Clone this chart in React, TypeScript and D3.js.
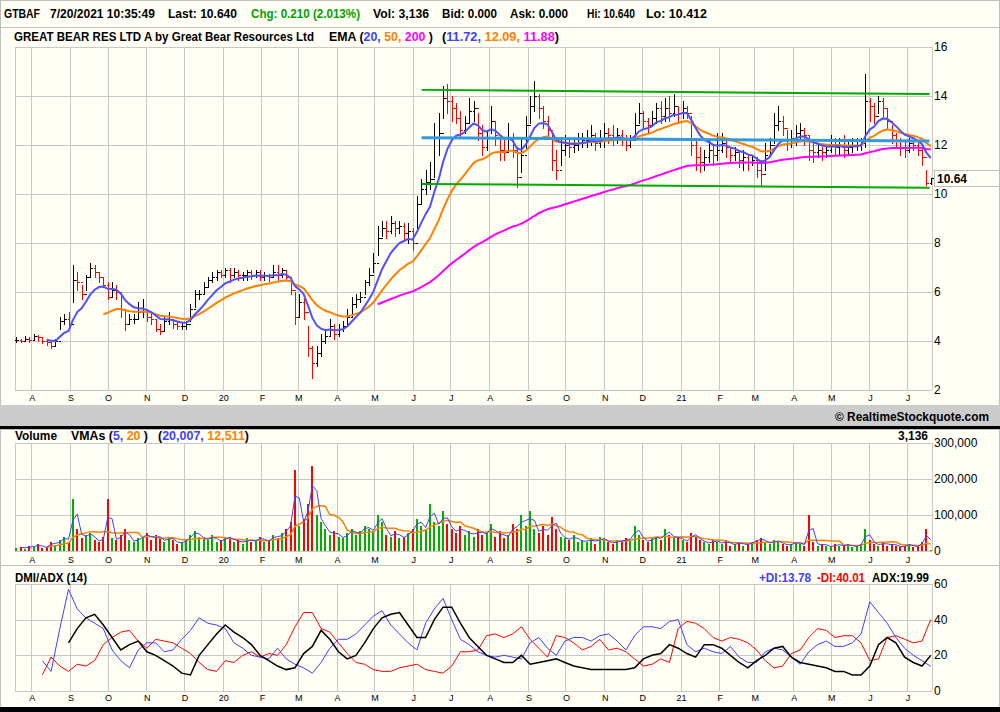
import React, { useEffect, useRef } from 'react'
import * as d3 from 'd3'

// price bars, one every ~3.5 calendar days, Jul 20 2019 .. Jul 20 2021
const highs = [
  4.15, 4.1, 4.2, 4.15, 4.3, 4.25, 4.15, 4.05, 3.95, 4.1,
  5.0, 5.1, 5.2, 7.1, 6.8, 6.3, 6.7, 7.2, 7.1, 6.8,
  6.6, 6.4, 6.4, 6.3, 5.9, 5.3, 5.1, 5.1, 5.6, 5.7,
  5.3, 5.2, 4.9, 4.7, 5.0, 5.2, 4.9, 4.8, 4.75, 4.8,
  5.5, 6.1, 6.1, 6.4, 6.6, 6.8, 6.9, 6.9, 7.0, 7.0,
  7.0, 6.9, 6.8, 6.9, 6.9, 6.9, 6.9, 6.8, 6.75, 7.1,
  7.1, 7.0, 6.9, 6.6, 6.0, 5.9, 5.7, 4.6, 3.8, 3.8,
  4.3, 4.5, 4.9, 4.7, 4.7, 4.8, 5.3, 5.8, 5.9, 6.0,
  6.5, 7.0, 7.6, 8.7, 8.9, 8.9, 9.1, 8.9, 8.9, 8.8,
  8.8, 8.6, 9.9, 10.6, 11.0, 11.3, 12.9, 13.3, 14.4, 14.5,
  14.0, 13.7, 13.4, 13.2, 13.9, 13.8, 13.3, 12.8, 12.6, 13.6,
  13.0, 12.3, 12.2, 12.9, 12.5, 11.9, 12.3, 13.2, 14.0, 14.6,
  14.1, 13.6, 13.2, 12.5, 11.8, 12.3, 12.4, 12.3, 12.3, 12.5,
  12.5, 12.6, 12.8, 12.5, 12.6, 12.9, 12.7, 12.8, 12.7, 12.6,
  12.4, 12.4, 13.3, 13.7, 13.4, 13.1, 13.4, 13.7, 13.8, 13.9,
  14.0, 14.1, 13.6, 13.8, 13.6, 13.2, 12.2, 11.9, 11.8, 12.2,
  12.0, 12.5, 12.5, 12.3, 11.9, 11.9, 11.8, 11.8, 11.6, 11.6,
  11.5, 11.4, 12.1, 12.3, 13.3, 13.6, 13.2, 12.6, 12.6, 12.8,
  12.9, 12.7, 12.4, 12.1, 12.0, 11.9, 12.0, 12.4, 12.3, 12.3,
  12.4, 12.2, 12.3, 12.3, 12.3, 14.9, 13.9, 13.7, 14.0, 13.9,
  13.5, 12.8, 12.5, 12.3, 12.2, 12.3, 12.2, 12.1, 11.9, 11.0,
  10.64,
]

const lows = [
  3.95, 3.95, 4.0, 3.95, 4.05, 4.0, 3.9, 3.85, 3.72, 3.8,
  4.5, 4.7, 4.5, 5.6, 6.1, 5.7, 6.1, 6.6, 6.6, 6.4,
  6.2, 5.7, 5.8, 5.7, 5.0, 4.45, 4.7, 4.75, 4.9, 5.0,
  4.8, 4.7, 4.4, 4.3, 4.4, 4.7, 4.55, 4.5, 4.5, 4.5,
  4.8, 5.4, 5.7, 5.9, 6.2, 6.4, 6.5, 6.6, 6.6, 6.4,
  6.6, 6.5, 6.5, 6.5, 6.55, 6.6, 6.5, 6.5, 6.45, 6.6,
  6.5, 6.6, 6.5, 5.9, 4.7, 5.0, 4.9, 3.4, 2.5, 3.0,
  3.4, 3.9, 4.2, 4.1, 4.2, 4.4, 4.7, 5.0, 5.4, 5.6,
  5.9, 6.3, 6.8, 7.5, 8.3, 8.2, 8.4, 8.3, 8.4, 8.1,
  8.0, 7.7, 8.5, 9.6, 10.0, 10.2, 10.7, 11.6, 13.1, 13.3,
  13.0, 12.9, 12.3, 12.5, 12.9, 13.0, 12.2, 11.6, 11.8, 12.5,
  12.0, 11.4, 11.4, 11.7, 11.5, 10.3, 10.9, 11.8, 12.9, 13.4,
  13.1, 12.7, 12.3, 11.0, 10.6, 11.2, 11.6, 11.5, 11.7, 11.8,
  11.9, 11.9, 12.0, 11.8, 11.9, 11.9, 12.1, 12.0, 12.1, 12.0,
  11.8, 11.9, 12.3, 12.9, 12.7, 12.5, 12.8, 12.9, 12.9, 13.0,
  13.0, 13.2, 13.0, 13.1, 13.1, 11.6, 11.0, 10.9, 11.0, 11.3,
  11.2, 11.4, 11.7, 11.5, 11.3, 11.4, 11.1, 11.0, 11.0, 11.2,
  10.7, 10.35, 11.0, 11.6, 12.1, 12.6, 12.4, 11.8, 11.9, 12.0,
  12.2, 12.0, 11.4, 11.3, 11.5, 11.4, 11.5, 11.7, 11.6, 11.6,
  11.5, 11.6, 11.7, 11.8, 11.8, 11.9, 13.0, 12.9, 13.3, 13.2,
  12.7, 12.1, 11.9, 11.6, 11.5, 11.7, 11.8, 11.6, 11.2, 10.35,
  10.41,
]

const closes = [
  4.05, 4.0, 4.1, 4.05, 4.2, 4.15, 4.0, 3.95, 3.8, 4.0,
  4.8, 4.9, 4.7, 6.5, 6.4, 5.9, 6.6, 7.0, 6.8, 6.6,
  6.3, 5.8, 6.1, 6.0, 5.3, 4.7, 4.9, 4.9, 5.2, 5.3,
  5.0, 4.9, 4.5, 4.4, 4.8, 4.9, 4.7, 4.6, 4.6, 4.7,
  5.3, 5.9, 5.9, 6.2, 6.5, 6.6, 6.8, 6.7, 6.9, 6.7,
  6.8, 6.7, 6.7, 6.8, 6.7, 6.8, 6.6, 6.7, 6.6, 6.8,
  6.7, 6.9, 6.6, 6.1, 5.0, 5.6, 5.2, 3.7, 3.1, 3.5,
  4.0, 4.2, 4.6, 4.3, 4.5, 4.6, 5.0, 5.5, 5.7, 5.8,
  6.4, 6.7, 7.2, 8.2, 8.6, 8.5, 8.8, 8.6, 8.7, 8.4,
  8.5, 8.0, 9.6, 10.2, 10.5, 10.6, 12.3, 12.5, 13.9, 13.8,
  13.5, 13.1, 12.6, 12.9, 13.4, 13.5, 12.5, 11.9, 12.3, 13.0,
  12.4, 11.8, 11.7, 12.3, 11.8, 10.7, 11.6, 12.8, 13.6, 14.0,
  13.5, 13.0, 12.6, 11.4, 11.0, 11.8, 12.0, 11.9, 12.0, 12.1,
  12.2, 12.2, 12.4, 12.1, 12.2, 12.5, 12.4, 12.3, 12.4, 12.3,
  12.0, 12.2, 12.8, 13.3, 13.0, 12.8, 13.1, 13.5, 13.2, 13.5,
  13.3, 13.6, 13.3, 13.5, 13.3, 12.0, 11.5, 11.3, 11.5, 11.8,
  11.6, 11.8, 12.1, 11.9, 11.6, 11.7, 11.4, 11.5, 11.3, 11.4,
  11.0, 10.8, 11.6, 12.0, 12.8, 13.0, 12.7, 12.2, 12.3, 12.5,
  12.6, 12.4, 11.8, 11.7, 11.8, 11.7, 11.8, 12.0, 11.9, 12.0,
  11.8, 11.9, 12.0, 12.0, 12.1, 13.8, 13.6, 13.2, 13.8, 13.5,
  13.0, 12.4, 12.2, 11.9, 11.8, 12.1, 12.0, 11.8, 11.5, 10.43,
  10.64,
]

// volume per bar, in thousands of shares
const volumes = [
  8, 12, 6, 15, 10, 20, 8, 12, 25, 18,
  30, 40, 25, 145, 60, 35, 45, 50, 30, 25,
  40, 145, 35, 30, 45, 60, 30, 25, 35, 40,
  50, 30, 45, 35, 25, 40, 30, 20, 25, 30,
  45, 55, 40, 35, 30, 45, 25, 30, 35, 40,
  25, 30, 20, 35, 25, 30, 40, 25, 30, 45,
  35, 50, 60, 80, 225, 70, 90, 130, 235, 100,
  80, 60, 45, 55, 40, 35, 50, 60, 45, 55,
  70, 60, 55, 100, 80, 45, 40, 55, 35, 40,
  50, 60, 90, 70, 60, 130, 80, 70, 110, 75,
  60, 50, 70, 45, 55, 40, 60, 45, 50, 75,
  40, 55, 35, 45, 75, 60, 100, 70, 110, 60,
  50, 70, 45, 95, 60, 40, 35, 30, 45, 25,
  30, 25, 35, 20, 40, 30, 25, 20, 30, 25,
  35, 30, 70, 45, 30, 25, 35, 40, 30, 60,
  45, 35, 40, 30, 25, 50, 40, 30, 25, 20,
  30, 25, 20, 30, 15, 20, 25, 15, 20, 25,
  30, 35, 25, 20, 30, 25, 20, 15, 20, 25,
  20, 15, 100, 25, 15, 20, 15, 10, 20, 15,
  15, 20, 10, 15, 20, 60, 30, 20, 15, 25,
  15, 20, 15, 10, 15, 20, 10, 15, 25, 60,
  3.136,
]

// DMI / ADX (14), one value every second price bar
const plusDI = [
  null, null, null, 17, 11, 35, 57, 46, 41, 38,
  35, 23, 17, 13, 23, 27, 27, 22, 23, 29,
  34, 41, 38, 37, 35, 27, 24, 20, 19, 18,
  24, 18, 15, 13, 10, 16, 24, 29, 29, 32,
  37, 42, 45, 37, 32, 27, 23, 38, 46, 52,
  40, 29, 26, 22, 20, 19, 20, 19, 18, 27,
  30, 24, 20, 28, 30, 30, 28, 31, 32, 28,
  23, 31, 36, 36, 35, 39, 40, 26, 22, 24,
  22, 21, 25, 19, 16, 16, 22, 24, 23, 19,
  15, 22, 26, 28, 25, 25, 27, 32, 50, 44,
  38, 30, 24, 20, 17, 13.78,
]
const minusDI = [
  null, null, null, 9, 19, 14, 11, 15, 14, 17,
  26, 30, 33, 34, 28, 24, 29, 28, 27, 24,
  21, 16, 12, 11, 17, 16, 20, 22, 19, 21,
  20, 26, 36, 44, 44, 35, 33, 27, 21, 16,
  15, 12, 11, 11, 13, 14, 15, 12, 11, 10,
  14, 22, 22, 23, 31, 32, 30, 32, 36, 29,
  24, 19, 31, 30, 27, 23, 25, 29, 23, 24,
  22, 18, 14, 15, 18, 16, 35, 39, 38, 35,
  30, 28, 30, 29, 27, 23, 17, 13, 14, 21,
  23, 30, 35, 34, 30, 31, 31, 27, 17, 18,
  30, 31, 29, 27, 28, 40.01,
]
const adx = [
  null, null, null, null, null, null, 27, 35, 41, 43,
  37, 30, 23, 26, 28, 22, 20, 17, 14, 10,
  9, 20, 26, 32, 37, 33, 30, 26, 20, 17,
  14, 12, 13, 21, 25, 34, 29, 22, 18, 20,
  27, 35, 41, 43, 44, 37, 30, 30, 40, 47,
  47, 38, 30, 25, 20, 18, 16, 16, 20, 15,
  16, 17, 18, 16, 14, 13, 12, 12, 12, 12,
  12, 13, 18, 20, 21, 26, 24, 21, 19, 26,
  26, 24, 20, 16, 13, 17, 20, 24, 25, 19,
  16, 15, 14, 13, 11, 11, 9, 9, 14, 26,
  30, 27, 19, 16, 14, 19.99,
]

// drawn trend lines: [start date, start price, end date, end price]
const supportResistance = [
  { color: '#00AA00', width: 2, from: ['2020-06-08', 14.25], to: ['2021-07-19', 14.08] },
  { color: '#3399DD', width: 3, from: ['2020-06-08', 12.3], to: ['2021-07-19', 12.16] },
  { color: '#00AA00', width: 2, from: ['2020-06-08', 10.41], to: ['2021-07-19', 10.26] },
]

const priceTicks = [2, 4, 6, 8, 10, 12, 14, 16]
const volumeTicks = [0, 100000, 200000, 300000]
const dmiTicks = [0, 20, 40, 60]
const monthLetters = ['J', 'F', 'M', 'A', 'M', 'J', 'J', 'A', 'S', 'O', 'N', 'D']

const FONT = '"Liberation Sans", Arial, Helvetica, sans-serif'
const BG = '#FFFFF5'
const GRID = '#C8C8C8'

export default function App(): React.ReactElement {
  const chartRef = useRef<HTMLDivElement>(null)

  useEffect(() => {
    document.body.style.margin = '0'
    const width = 1000
    const height = 712
    const left = 15
    const right = 932

    const start = new Date(2019, 6, 20).getTime()
    const end = new Date(2021, 6, 20).getTime()
    const step = (end - start) / (closes.length - 1)
    const barDate = (i: number) => new Date(start + i * step)

    const x = d3
      .scaleTime()
      .domain([new Date(2019, 6, 19), new Date(2021, 6, 21)])
      .range([left, right])
    const months = d3.timeMonth.range(new Date(2019, 7, 1), new Date(2021, 6, 2))
    const monthLabel = (m: Date) =>
      m.getMonth() === 0 ? String(m.getFullYear()).slice(2) : monthLetters[m.getMonth()]

    const yPrice = d3.scaleLinear().domain([2, 16]).range([390, 47])
    const yVol = d3.scaleLinear().domain([0, 300000]).range([551, 443])
    const yDmi = d3.scaleLinear().domain([0, 60]).range([691, 584])

    const ema = (values: number[], n: number) => {
      const k = 2 / (n + 1)
      const seed = Math.round(n)
      let prev = 0
      return values.map((v, i) => {
        if (i < seed - 1) return null
        if (i === seed - 1) {
          prev = d3.mean(values.slice(0, seed))!
          return prev
        }
        prev = v * k + prev * (1 - k)
        return prev
      })
    }
    const sma = (values: number[], n: number) =>
      values.map((_, i) => (i < n - 1 ? null : d3.mean(values.slice(i - n + 1, i + 1))!))

    // ~0.42 bars per trading day
    const barsPerDay = (closes.length - 1) / 500
    const ema20 = ema(closes, 20 * barsPerDay)
    const ema50 = ema(closes, 50 * barsPerDay)
    const ema200 = ema(closes, 200 * barsPerDay)
    const vma5 = sma(volumes, 2)
    const vma20 = sma(volumes, 8)

    d3.select(chartRef.current).select('svg').remove()

    const svg = d3
      .select(chartRef.current)
      .append('svg')
      .attr('width', width)
      .attr('height', height)
      .attr('viewBox', `0 0 ${width} ${height}`)
      .style('display', 'block')
      .style('font-family', FONT)

    svg.append('rect').attr('width', width).attr('height', height).attr('fill', BG)

    // frames and bands
    const frame = (y0: number, y1: number) =>
      svg
        .append('rect')
        .attr('x', 0.5)
        .attr('y', y0 + 0.5)
        .attr('width', width - 1)
        .attr('height', y1 - y0)
        .attr('fill', 'none')
        .attr('stroke', '#BEBEBE')
    frame(0, 27)
    frame(27, 405)
    svg.append('rect').attr('x', 0).attr('y', 405).attr('width', width).attr('height', 21).attr('fill', '#CCCCCC')
    svg.append('rect').attr('x', 0).attr('y', 426).attr('width', width).attr('height', 3).attr('fill', '#000')
    frame(429, 565)
    frame(565, 707)
    svg.append('rect').attr('x', 0).attr('y', 707).attr('width', width).attr('height', 5).attr('fill', '#000')

    const grid = (y0: number, y1: number, ticks: number[], y: (v: number) => number) => {
      const g = svg.append('g').attr('stroke', GRID).attr('stroke-width', 1)
      g.selectAll('line.v')
        .data(months)
        .join('line')
        .attr('x1', (d) => Math.round(x(d)) + 0.5)
        .attr('x2', (d) => Math.round(x(d)) + 0.5)
        .attr('y1', y0)
        .attr('y2', y1)
      g.selectAll('line.h')
        .data(ticks)
        .join('line')
        .attr('x1', left)
        .attr('x2', right)
        .attr('y1', (d) => Math.round(y(d)) + 0.5)
        .attr('y2', (d) => Math.round(y(d)) + 0.5)
      g.append('line').attr('x1', left + 0.5).attr('x2', left + 0.5).attr('y1', y0).attr('y2', y1)
      g.append('line').attr('x1', right + 0.5).attr('x2', right + 0.5).attr('y1', y0).attr('y2', y1)
      g.append('line').attr('x1', left).attr('x2', right).attr('y1', y1 + 0.5).attr('y2', y1 + 0.5)
    }
    const monthAxis = (yBase: number, size: number) =>
      svg
        .append('g')
        .attr('font-size', size)
        .attr('text-anchor', 'middle')
        .selectAll('text')
        .data(months)
        .join('text')
        .attr('x', (d) => x(d) + 1)
        .attr('y', yBase)
        .text(monthLabel)
    const valueAxis = (ticks: number[], y: (v: number) => number, fmt: (v: number) => string) =>
      svg
        .append('g')
        .attr('font-size', 12)
        .selectAll('text')
        .data(ticks)
        .join('text')
        .attr('x', 934)
        .attr('y', (d) => y(d) + 4)
        .text(fmt)

    const txt = (
      s: string,
      xx: number,
      yy: number,
      opts: { len?: number; color?: string; bold?: boolean; anchor?: string; size?: number } = {}
    ) => {
      const t = svg
        .append('text')
        .attr('x', xx)
        .attr('y', yy)
        .attr('font-size', opts.size ?? 12)
        .attr('font-weight', opts.bold === false ? 'normal' : 'bold')
        .attr('fill', opts.color ?? '#000')
        .attr('text-anchor', opts.anchor ?? 'start')
        .text(s)
      if (opts.len) t.attr('textLength', opts.len).attr('lengthAdjust', 'spacingAndGlyphs')
      return t
    }
    const multi = (parts: [string, string][], xx: number, yy: number, len: number) => {
      const t = svg
        .append('text')
        .attr('x', xx)
        .attr('y', yy)
        .attr('font-size', 12)
        .attr('font-weight', 'bold')
        .attr('textLength', len)
        .attr('lengthAdjust', 'spacingAndGlyphs')
      parts.forEach(([s, c]) => t.append('tspan').attr('fill', c).text(s))
    }

    // ---------- header ----------
    txt('GTBAF', 4, 18, { len: 36 })
    txt('7/20/2021 10:35:49', 50, 18, { len: 105 })
    txt('Last: 10.640', 168, 18, { len: 69 })
    txt('Chg: 0.210 (2.013%)', 251, 18, { len: 109, color: '#00A000' })
    txt('Vol: 3,136', 373, 18, { len: 56 })
    txt('Bid: 0.000', 442, 18, { len: 55 })
    txt('Ask: 0.000', 510, 18, { len: 58 })
    txt('Hi: 10.640', 587, 18, { len: 48 })
    txt('Lo: 10.412', 646, 18, { len: 61 })

    // ---------- price panel ----------
    grid(47, 390, priceTicks, yPrice)
    monthAxis(401, 9)
    valueAxis(priceTicks, yPrice, (d) => String(d))

    txt('GREAT BEAR RES LTD A by Great Bear Resources Ltd', 14, 41, { len: 300 })
    multi(
      [
        ['EMA (', '#000'],
        ['20, ', '#4040FF'],
        ['50, ', '#FF8000'],
        ['200', '#FF00FF'],
        [' )', '#000'],
      ],
      329,
      41,
      104
    )
    multi(
      [
        ['(', '#000'],
        ['11.72, ', '#4040FF'],
        ['12.09, ', '#FF8000'],
        ['11.88', '#FF00FF'],
        [')', '#000'],
      ],
      442,
      41,
      117
    )

    const bars = closes.map((c, i) => ({
      date: barDate(i),
      high: highs[i],
      low: lows[i],
      open: i === 0 ? c : closes[i - 1],
      close: c,
      up: i === 0 || c >= closes[i - 1],
    }))

    const barG = svg.append('g').attr('stroke-width', 1).attr('shape-rendering', 'crispEdges')
    const bar = barG
      .selectAll('g')
      .data(bars)
      .join('g')
      .attr('stroke', (d) => (d.up ? '#000' : '#FF0000'))
      .attr('transform', (d) => `translate(${Math.round(x(d.date)) + 0.5},0)`)
    bar.append('line').attr('y1', (d) => yPrice(d.high)).attr('y2', (d) => yPrice(d.low) + 1)
    bar
      .append('line')
      .attr('x1', -2)
      .attr('x2', 0)
      .attr('y1', (d) => Math.round(yPrice(d.open)) + 0.5)
      .attr('y2', (d) => Math.round(yPrice(d.open)) + 0.5)
    bar
      .append('line')
      .attr('x1', 0)
      .attr('x2', 2)
      .attr('y1', (d) => Math.round(yPrice(d.close)) + 0.5)
      .attr('y2', (d) => Math.round(yPrice(d.close)) + 0.5)

    const priceLine = d3
      .line<number | null>()
      .defined((d) => d != null)
      .x((_, i) => x(barDate(i)))
      .y((d) => yPrice(d as number))
    ;[
      [ema200, '#FF00FF'],
      [ema50, '#FF8000'],
      [ema20, '#5050FF'],
    ].forEach(([s, c]) =>
      svg
        .append('path')
        .attr('d', priceLine(s as (number | null)[]))
        .attr('fill', 'none')
        .attr('stroke', c as string)
        .attr('stroke-width', 2)
    )

    svg
      .append('g')
      .selectAll('line')
      .data(supportResistance)
      .join('line')
      .attr('x1', (d) => x(new Date(d.from[0] + 'T00:00')))
      .attr('y1', (d) => yPrice(d.from[1] as number))
      .attr('x2', (d) => x(new Date(d.to[0] + 'T00:00')))
      .attr('y2', (d) => yPrice(d.to[1] as number))
      .attr('stroke', (d) => d.color)
      .attr('stroke-width', (d) => d.width)

    // last price tag
    const last = closes[closes.length - 1]
    svg
      .append('rect')
      .attr('x', 934.5)
      .attr('y', Math.round(yPrice(last)) - 7.5)
      .attr('width', 65)
      .attr('height', 16)
      .attr('fill', BG)
      .attr('stroke', '#BEBEBE')
    txt(last.toFixed(2), 937, Math.round(yPrice(last)) + 5)

    // copyright band
    txt('\u00A9 RealtimeStockquote.com', 989, 421, { anchor: 'end', len: 154 })

    // ---------- volume panel ----------
    grid(443, 551, volumeTicks, yVol)
    monthAxis(563, 9)
    valueAxis(volumeTicks, yVol, (d) => d3.format(',')(d))
    txt('Volume', 15, 440, { len: 42 })
    multi(
      [
        ['VMAs (', '#000'],
        ['5, ', '#4040FF'],
        ['20', '#FF8000'],
        [' )', '#000'],
      ],
      71,
      440,
      77
    )
    multi(
      [
        ['(', '#000'],
        ['20,007, ', '#4040FF'],
        ['12,511', '#FF8000'],
        [')', '#000'],
      ],
      158,
      440,
      91
    )
    txt('3,136', 928, 440, { anchor: 'end', len: 30 })

    svg
      .append('g')
      .attr('shape-rendering', 'crispEdges')
      .selectAll('rect')
      .data(bars)
      .join('rect')
      .attr('x', (d) => Math.round(x(d.date)) - 1)
      .attr('width', 2)
      .attr('y', (_, i) => yVol(volumes[i] * 1000))
      .attr('height', (_, i) => yVol(0) - yVol(volumes[i] * 1000))
      .attr('fill', (d) => (d.up ? '#00B000' : '#FF0000'))

    const volLine = d3
      .line<number | null>()
      .defined((d) => d != null)
      .x((_, i) => x(barDate(i)))
      .y((d) => yVol((d as number) * 1000))
    svg
      .append('path')
      .attr('d', volLine(vma20))
      .attr('fill', 'none')
      .attr('stroke', '#FF8000')
      .attr('stroke-width', 1.5)
    svg
      .append('path')
      .attr('d', volLine(vma5))
      .attr('fill', 'none')
      .attr('stroke', '#4040FF')
      .attr('stroke-width', 1)

    // ---------- DMI panel ----------
    grid(584, 691, dmiTicks, yDmi)
    monthAxis(701, 9)
    valueAxis(dmiTicks, yDmi, (d) => String(d))
    txt('DMI/ADX (14)', 15, 582, { len: 72 })
    txt('+DI:13.78', 759, 582, { color: '#4040FF', len: 52 })
    txt('-DI:40.01', 817, 582, { color: '#FF0000', len: 48 })
    txt('ADX:19.99', 872, 582, { len: 57 })

    const dmiLine = d3
      .line<number | null>()
      .defined((d) => d != null)
      .x((_, k) => x(barDate(k * 2)))
      .y((d) => yDmi(d as number))
    ;[
      [minusDI, '#FF0000', 1],
      [plusDI, '#4040FF', 1],
      [adx, '#000', 1.5],
    ].forEach(([s, c, w]) =>
      svg
        .append('path')
        .attr('d', dmiLine(s as (number | null)[]))
        .attr('fill', 'none')
        .attr('stroke', c as string)
        .attr('stroke-width', w as number)
    )
  }, [])

  return <div ref={chartRef}></div>
}
